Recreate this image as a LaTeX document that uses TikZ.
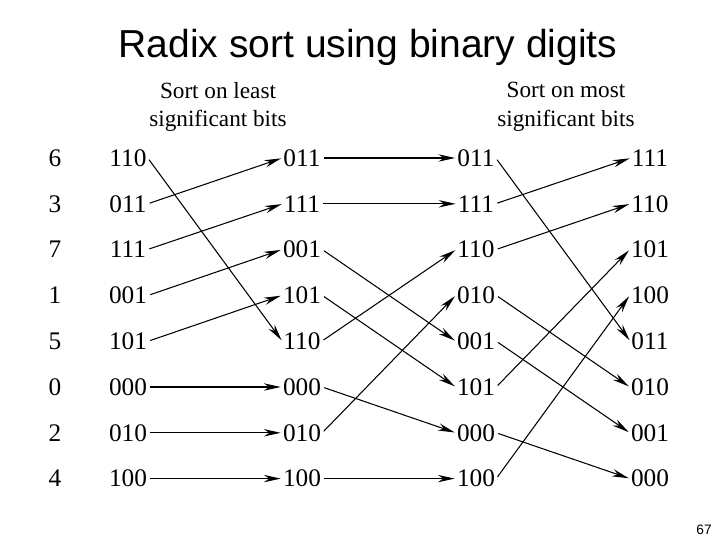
\documentclass[tikz,border=0pt]{standalone}
\usepackage{fontspec}
\setmainfont{Liberation Serif}
\newfontfamily\titlefont{Liberation Sans}
\usetikzlibrary{arrows.meta}
\tikzset{
  bits/.style={font=\fontsize{24}{27}\selectfont, inner sep=1pt},
  move/.style={-{Stealth[length=16pt,width=7pt]}, line width=1pt, shorten <=2pt, shorten >=1pt},
}
\begin{document}
\begin{tikzpicture}[x=0.03333cm,y=-0.03333cm]
      \useasboundingbox (0,0) rectangle (720,540);
      \node [font=\titlefont\fontsize{37}{40}\selectfont] (title) at (368,47) {Radix sort using binary digits};
      \node [align=center, font=\fontsize{22}{27}\selectfont] (hlsb) at (218,107) {Sort on least\\significant bits};
      \node [align=center, font=\fontsize{22}{27}\selectfont] (hmsb) at (566,107) {Sort on most\\significant bits};
      \node [font=\titlefont\fontsize{13}{14}\selectfont] (page) at (704,530) {67};
      %
      \foreach \d [count=\i from 0] in {6,3,7,1,5,0,2,4}
        \node [bits] (dec\i) at (55,{158+\i*45.8}) {\d};
      \foreach \v [count=\i from 0] in {110,011,111,001,101,000,010,100}
        \node [bits] (a\i) at (128,{158+\i*45.8}) {\v};
      \foreach \v [count=\i from 0] in {011,111,001,101,110,000,010,100}
        \node [bits] (b\i) at (302,{158+\i*45.8}) {\v};
      \foreach \v [count=\i from 0] in {011,111,110,010,001,101,000,100}
        \node [bits] (c\i) at (476,{158+\i*45.8}) {\v};
      \foreach \v [count=\i from 0] in {111,110,101,100,011,010,001,000}
        \node [bits] (d\i) at (650,{158+\i*45.8}) {\v};
      %
      \foreach \s/\t in {0/4,1/0,2/1,3/2,4/3,5/5,6/6,7/7}
        \draw [move] (a\s.east) -- (b\t.west);
      \foreach \s/\t in {0/0,1/1,2/4,3/5,4/2,5/6,6/3,7/7}
        \draw [move] (b\s.east) -- (c\t.west);
      \foreach \s/\t in {0/4,1/0,2/1,3/5,4/6,5/2,6/7,7/3}
        \draw [move] (c\s.east) -- (d\t.west);
\end{tikzpicture}
\end{document}
